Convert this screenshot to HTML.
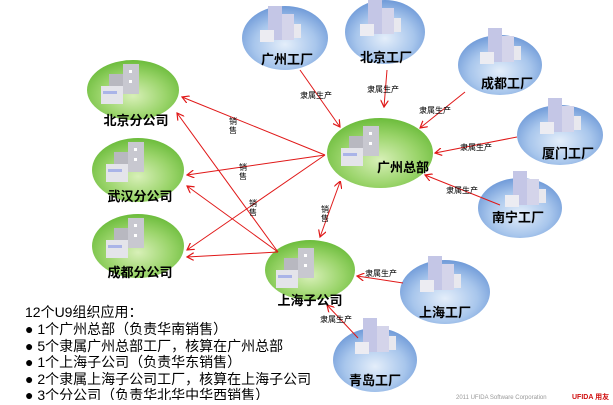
<!DOCTYPE html>
<html><head><meta charset="utf-8"><style>
body{margin:0;background:#fff;width:613px;height:400px;overflow:hidden;font-family:"Liberation Sans","Noto Sans CJK SC",sans-serif}
svg text{font-family:"Liberation Sans","Noto Sans CJK SC",sans-serif}
</style></head><body>
<svg width="613" height="400" xmlns="http://www.w3.org/2000/svg">
<defs>
<radialGradient id="g" cx="0.5" cy="0.6" r="0.6"><stop offset="0" stop-color="#d8f0b8"/><stop offset="0.6" stop-color="#9ad46a"/><stop offset="1" stop-color="#6cbc3c"/></radialGradient>
<radialGradient id="b" cx="0.5" cy="0.6" r="0.6"><stop offset="0" stop-color="#e4eefa"/><stop offset="0.6" stop-color="#a8c6ec"/><stop offset="1" stop-color="#6f9ad8"/></radialGradient>
<marker id="a" markerWidth="8" markerHeight="8" refX="7" refY="4" orient="auto" markerUnits="userSpaceOnUse"><path d="M0,0 L7,4 L0,8" fill="none" stroke="#e01818" stroke-width="1.2"/></marker>
<marker id="as" markerWidth="8" markerHeight="8" refX="1" refY="4" orient="auto" markerUnits="userSpaceOnUse"><path d="M7,0 L0,4 L7,8" fill="none" stroke="#e01818" stroke-width="1.2"/></marker>
<g id="bld"><rect x="-16" y="-26" width="14" height="18" fill="#b8b8c0"/><rect x="-2" y="-36" width="16" height="30" fill="#c8c8d0"/><rect x="-24" y="-14" width="22" height="18" fill="#e4e4ea"/><rect x="-22" y="-9" width="14" height="3" fill="#aab4e8"/><rect x="4" y="-30" width="3" height="3" fill="#fff"/><rect x="4" y="-20" width="3" height="3" fill="#fff"/></g>
<g id="tow"><rect x="-12" y="-34" width="14" height="34" fill="#c4c6e6"/><rect x="2" y="-26" width="12" height="26" fill="#d4d4ea"/><rect x="-20" y="-10" width="14" height="12" fill="#ececf2"/><rect x="14" y="-16" width="7" height="14" fill="#e8e8ee"/></g>
</defs>
<g fill="url(#b)">
<ellipse cx="285" cy="38" rx="43" ry="32"/>
<ellipse cx="385" cy="32" rx="40" ry="32"/>
<ellipse cx="500" cy="65" rx="42" ry="30"/>
<ellipse cx="560" cy="135" rx="43" ry="30"/>
<ellipse cx="520" cy="208" rx="42" ry="30"/>
<ellipse cx="445" cy="292" rx="45" ry="32"/>
<ellipse cx="375" cy="360" rx="42" ry="32"/>
</g>
<g fill="url(#g)">
<ellipse cx="133" cy="90" rx="46" ry="30"/>
<ellipse cx="138" cy="170" rx="46" ry="32"/>
<ellipse cx="138" cy="246" rx="46" ry="32"/>
<ellipse cx="380" cy="153" rx="53" ry="35"/>
<ellipse cx="310" cy="270" rx="45" ry="30"/>
</g>
<use href="#tow" x="280" y="40"/><use href="#tow" x="380" y="34"/><use href="#tow" x="500" y="62"/><use href="#tow" x="560" y="132"/><use href="#tow" x="525" y="205"/><use href="#tow" x="440" y="290"/><use href="#tow" x="375" y="352"/>
<use href="#bld" x="125" y="100"/><use href="#bld" x="130" y="178"/><use href="#bld" x="130" y="254"/><use href="#bld" x="365" y="162"/><use href="#bld" x="300" y="284"/>
<g stroke="#e01818" stroke-width="1" fill="none">
<line x1="325" y1="155" x2="182" y2="97" marker-end="url(#a)"/>
<line x1="325" y1="155" x2="187" y2="175" marker-end="url(#a)"/>
<line x1="325" y1="155" x2="187" y2="250" marker-end="url(#a)"/>
<line x1="278" y1="252" x2="177" y2="113" marker-end="url(#a)"/>
<line x1="278" y1="252" x2="187" y2="186" marker-end="url(#a)"/>
<line x1="278" y1="252" x2="187" y2="257" marker-end="url(#a)"/>
<line x1="340" y1="182" x2="320" y2="237" marker-end="url(#a)" marker-start="url(#as)"/>
<line x1="300" y1="70" x2="340" y2="127" marker-end="url(#a)"/>
<line x1="387" y1="70" x2="384" y2="107" marker-end="url(#a)"/>
<line x1="465" y1="92" x2="420" y2="128" marker-end="url(#a)"/>
<line x1="517" y1="137" x2="435" y2="153" marker-end="url(#a)"/>
<line x1="500" y1="205" x2="425" y2="175" marker-end="url(#a)"/>
<line x1="403" y1="283" x2="357" y2="276" marker-end="url(#a)"/>
<line x1="358" y1="338" x2="327" y2="305" marker-end="url(#a)"/>
</g>
<g font-size="8" fill="#000">
<text x="300" y="98">隶属生产</text><text x="367" y="92">隶属生产</text><text x="419" y="113">隶属生产</text><text x="460" y="150">隶属生产</text><text x="446" y="193">隶属生产</text><text x="365" y="276">隶属生产</text><text x="320" y="322">隶属生产</text>
<text x="229" y="124">销</text><text x="229" y="133">售</text>
<text x="239" y="170">销</text><text x="239" y="179">售</text>
<text x="249" y="206">销</text><text x="249" y="215">售</text>
<text x="321" y="212">销</text><text x="321" y="221">售</text>
</g>
<g font-size="13" font-weight="bold" fill="#000" text-anchor="middle">
<text x="287" y="64">广州工厂</text><text x="386" y="62">北京工厂</text><text x="507" y="88">成都工厂</text><text x="568" y="158">厦门工厂</text><text x="518" y="222">南宁工厂</text><text x="445" y="317">上海工厂</text><text x="375" y="385">青岛工厂</text>
<text x="136" y="125">北京分公司</text><text x="140" y="201">武汉分公司</text><text x="140" y="277">成都分公司</text><text x="403" y="172">广州总部</text><text x="310" y="305">上海子公司</text>
</g>
<g font-size="14" fill="#000">
<text x="25" y="317">12个U9组织应用：</text>
<text x="25" y="334">● 1个广州总部（负责华南销售）</text>
<text x="25" y="351">● 5个隶属广州总部工厂，核算在广州总部</text>
<text x="25" y="367">● 1个上海子公司（负责华东销售）</text>
<text x="25" y="384">● 2个隶属上海子公司工厂，核算在上海子公司</text>
<text x="25" y="400">● 3个分公司（负责华北华中华西销售）</text>
</g>
<text x="456" y="399" font-size="6" fill="#999">2011 UFIDA Software Corporation</text>
<text x="572" y="399" font-size="7" font-weight="bold" fill="#d01010">UFIDA 用友</text>
</svg>
</body></html>
